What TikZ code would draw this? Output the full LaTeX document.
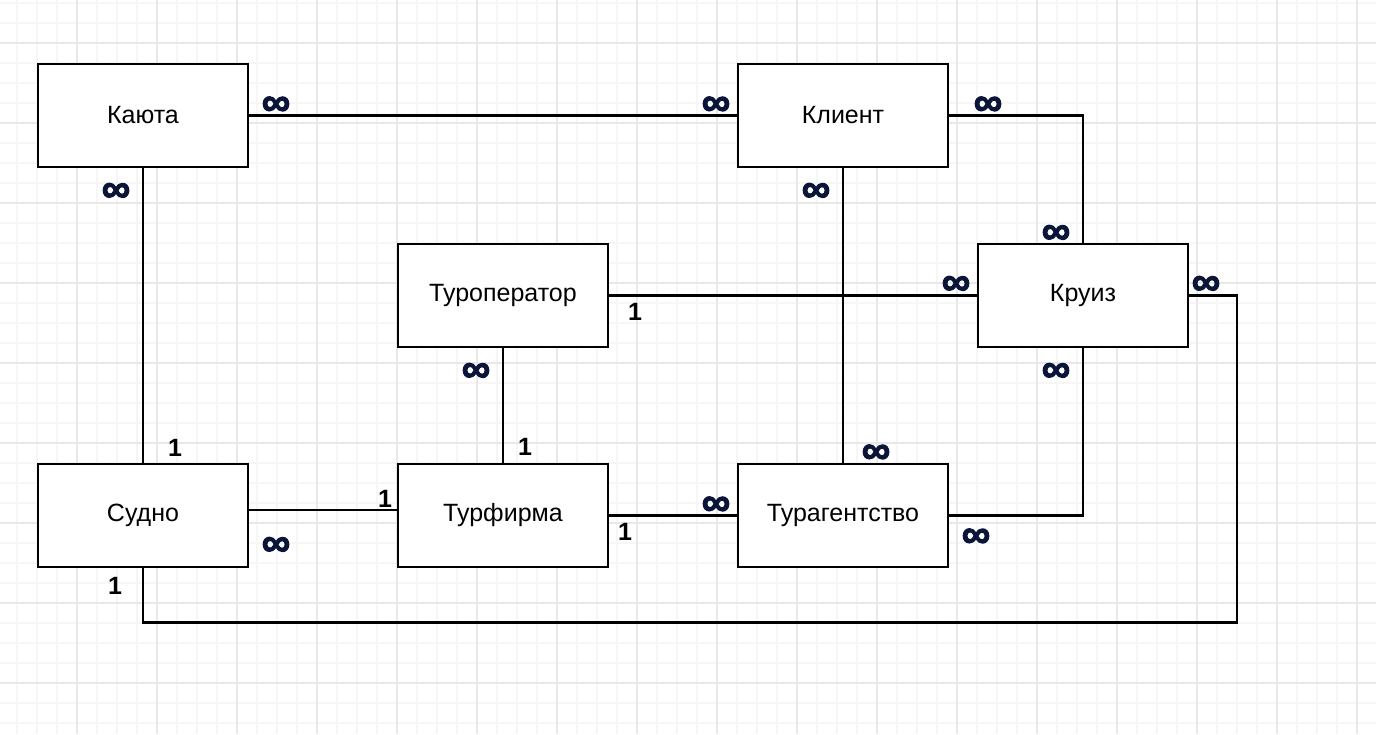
\documentclass[tikz,border=0pt]{standalone}
\usepackage{fontspec}
\setmainfont{Liberation Sans}
\newfontfamily\inffont[FakeBold=2.5]{Liberation Sans Bold}
\definecolor{infcol}{HTML}{0A1538}
\definecolor{gridminor}{HTML}{F6F6F6}
\definecolor{gridmajor}{HTML}{E8E8E8}
\begin{document}
\begin{tikzpicture}[x=1pt,y=-1pt,
  entity/.style={draw=black,line width=2.2pt,fill=white,minimum width=210pt,minimum height=103pt,inner sep=0pt,font=\fontsize{25}{29}\selectfont},
  rel/.style={draw=black,line width=2.2pt},
  inf/.style={text=infcol,inner sep=0pt,yshift=-4pt,font=\fontsize{40}{42}\inffont},
  one/.style={text=black,inner sep=0pt,font=\fontsize{25}{28}\selectfont\bfseries},
  minorline/.style={draw=gridminor,line width=1.2pt},
  majorline/.style={draw=gridmajor,line width=1.6pt}]
\useasboundingbox (0,0) rectangle (1376,734);
\fill[white] (0,0) rectangle (1376,734);
% grid
\foreach \gx in {17,37,...,1377} {\draw[minorline] (\gx,0) -- (\gx,734);}
\foreach \gy in {3,23,...,734} {\draw[minorline] (0,\gy) -- (1376,\gy);}
\foreach \gx in {77,157,...,1377} {\draw[majorline] (\gx,0) -- (\gx,734);}
\foreach \gy in {43,123,...,734} {\draw[majorline] (0,\gy) -- (1376,\gy);}
% entities
\node[entity] (kayuta) at (143,115.5) {Каюта};
\node[entity] (klient) at (843,115.5) {Клиент};
\node[entity] (turop) at (503,295.5) {Туроператор};
\node[entity] (kruiz) at (1083,295.5) {Круиз};
\node[entity] (sudno) at (143,515.5) {Судно};
\node[entity] (turfirma) at (503,515.5) {Турфирма};
\node[entity] (turag) at (843,515.5) {Турагентство};
\coordinate (loop) at (1237,622.5);
% relations
\draw[rel] (kayuta.east) -- (klient.west);
\draw[rel] (kayuta.south) -- (sudno.north);
\draw[rel] (klient.east) -| (kruiz.north);
\draw[rel] (klient.south) -- (turag.north);
\draw[rel] (turop.east) -- (kruiz.west);
\draw[rel] (turop.south) -- (turfirma.north);
\draw[rel] (kruiz.south) |- (turag.east);
\draw[rel] (kruiz.east) -| (loop) -| (sudno.south);
\draw[rel] ([yshift=5.5pt]sudno.east) -- ([yshift=5.5pt]turfirma.west);
\draw[rel] (turfirma.east) -- (turag.west);
% labels
\node[inf] (l1) at (276,102) {∞};
\node[inf] (l2) at (716,102) {∞};
\node[inf] (l3) at (116,188.5) {∞};
\node[inf] (l4) at (988,102) {∞};
\node[inf] (l5) at (816,188.5) {∞};
\node[inf] (l6) at (1056,230.5) {∞};
\node[inf] (l7) at (956,281.5) {∞};
\node[inf] (l8) at (1206,281.5) {∞};
\node[inf] (l9) at (1056,368.5) {∞};
\node[inf] (l10) at (476,368.5) {∞};
\node[inf] (l11) at (276,542.5) {∞};
\node[inf] (l12) at (716,502) {∞};
\node[inf] (l13) at (876,450) {∞};
\node[inf] (l14) at (976,534) {∞};
\node[one] (n1) at (175,447.5) {1};
\node[one] (n2) at (385,499) {1};
\node[one] (n3) at (115,585.5) {1};
\node[one] (n4) at (635,311.5) {1};
\node[one] (n5) at (525,447) {1};
\node[one] (n6) at (625,531.5) {1};
\end{tikzpicture}
\end{document}
